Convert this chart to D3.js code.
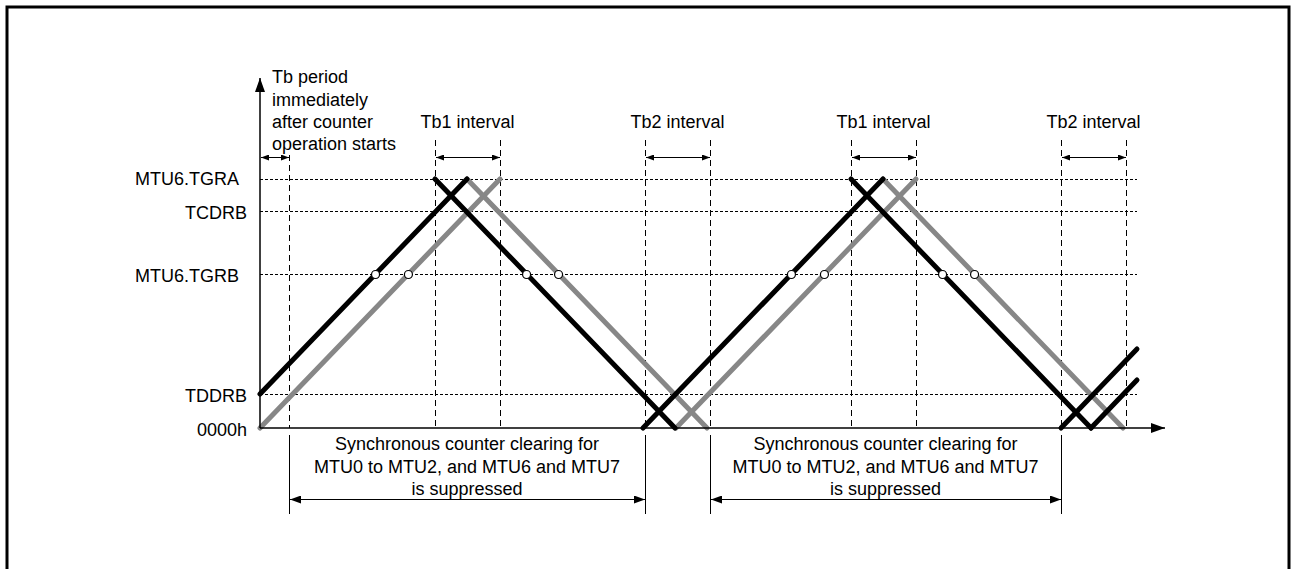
<!DOCTYPE html>
<html>
<head>
<meta charset="utf-8">
<script src="https://cdn.jsdelivr.net/npm/d3@7"></script>
<style>
  html, body { margin: 0; padding: 0; background: #fff; }
  svg { display: block; font-family: "Liberation Sans", Arial, Helvetica, sans-serif; }
</style>
</head>
<body>
<svg id="chart" width="1291" height="569"></svg>
<script>
// ---------- data ----------
const levelLabels = ["MTU6.TGRA", "TCDRB", "MTU6.TGRB", "TDDRB", "0000h"];
const levelValues = [249, 217, 154, 34, 0];

// counter waveforms as [time, count] segments
const blackSegments = [
  [[0, 34], [207, 249]],
  [[175, 249], [415, 0]],
  [[383, 0], [623, 249]],
  [[591, 249], [831, 0]],
  [[801, 0], [877, 79]],
  [[831, 0], [877, 48]]
];
const graySegments = [
  [[0, 0], [240, 249]],
  [[207, 249], [447, 0]],
  [[416, 0], [656, 249]],
  [[623, 249], [863, 0]]
];

const intervalLabels = ["Tb1 interval", "Tb2 interval", "Tb1 interval", "Tb2 interval"];
const intervalBounds = [[175, 240], [385, 450], [591, 656], [801, 866]];

const startLabelLines = ["Tb period", "immediately", "after counter", "operation starts"];
const startBounds = [0, 29];

const suppressLines = ["Synchronous counter clearing for", "MTU0 to MTU2, and MTU6 and MTU7", "is suppressed"];
const suppressBounds = [[29, 385], [450, 801]];

const timeMax = 905;
const gridEnd = 877;

// ---------- layout ----------
const svg = d3.select("#chart");
const x = d3.scaleLinear().domain([0, timeMax]).range([260, 1165]);
const y = d3.scaleLinear().domain([0, 249]).range([428, 179]);
const FS = 18;

// border
svg.append("rect").attr("x", 7).attr("y", 7).attr("width", 1282).attr("height", 600)
  .attr("fill", "none").attr("stroke", "#000").attr("stroke-width", 3);

// arrow markers
const defs = svg.append("defs");
function marker(id, len, half) {
  defs.append("marker").attr("id", id).attr("viewBox", `0 ${-half} ${len} ${2 * half}`)
    .attr("refX", len).attr("refY", 0).attr("markerUnits", "userSpaceOnUse")
    .attr("markerWidth", len).attr("markerHeight", 2 * half).attr("orient", "auto-start-reverse")
    .append("path").attr("d", `M0,${-half}L${len},0L0,${half}Z`).attr("fill", "#000");
}
marker("axisArrow", 14, 5);
marker("smallArrow", 8, 3);
marker("bigArrow", 11, 4);

// horizontal dashed level lines
svg.append("g").selectAll("line").data(levelValues.slice(0, 4)).join("line")
  .attr("x1", x(0)).attr("x2", x(gridEnd))
  .attr("y1", d => y(d) + 0.5).attr("y2", d => y(d) + 0.5)
  .attr("stroke", "#000").attr("stroke-width", 1).attr("stroke-dasharray", "3,2");

// level labels
svg.append("g").selectAll("text").data(levelLabels).join("text")
  .attr("x", d => d.startsWith("MTU6") ? 239 : 247)
  .attr("y", (d, i) => y(levelValues[i]) + (i === 0 ? 0 : 2))
  .attr("dy", "0.35em").attr("text-anchor", "end").attr("font-size", FS).attr("fill", "#000")
  .text(d => d);

// vertical dashed interval lines
const vTimes = [startBounds[1]].concat(intervalBounds.flat());
svg.append("g").selectAll("line").data(vTimes).join("line")
  .attr("x1", d => x(d) + 0.5).attr("x2", d => x(d) + 0.5)
  .attr("y1", (d, i) => i === 0 ? 155 : 140).attr("y2", y(0))
  .attr("stroke", "#000").attr("stroke-width", 1).attr("stroke-dasharray", "6,4");

// interval arrows and labels
const arrowY = 157.5;
svg.append("g").selectAll("line").data(intervalBounds.concat([startBounds])).join("line")
  .attr("x1", d => x(d[0]) + 1).attr("x2", d => x(d[1]))
  .attr("y1", arrowY).attr("y2", arrowY)
  .attr("stroke", "#000").attr("stroke-width", 1)
  .attr("marker-start", "url(#smallArrow)").attr("marker-end", "url(#smallArrow)");

svg.append("g").selectAll("text").data(intervalLabels).join("text")
  .attr("x", (d, i) => (x(intervalBounds[i][0]) + x(intervalBounds[i][1])) / 2)
  .attr("y", 122).attr("dy", "0.35em").attr("text-anchor", "middle")
  .attr("font-size", FS).text(d => d);

svg.append("g").selectAll("text").data(startLabelLines).join("text")
  .attr("x", 272).attr("y", (d, i) => 77 + i * 22.3).attr("dy", "0.35em")
  .attr("font-size", FS).text(d => d);

// waveforms
const line = d3.line().x(d => x(d[0])).y(d => y(d[1]));
svg.append("g").selectAll("path").data(graySegments).join("path")
  .attr("d", line).attr("fill", "none").attr("stroke", "#878787")
  .attr("stroke-width", 5).attr("stroke-linecap", "round");
svg.append("g").selectAll("path").data(blackSegments).join("path")
  .attr("d", line).attr("fill", "none").attr("stroke", "#000")
  .attr("stroke-width", 5).attr("stroke-linecap", "round");

// compare-match points where waveforms cross MTU6.TGRB
const tgrb = levelValues[2];
const hits = [];
blackSegments.concat(graySegments).forEach(s => {
  const [a, b] = s;
  if ((a[1] - tgrb) * (b[1] - tgrb) < 0) {
    const t = a[0] + (tgrb - a[1]) / (b[1] - a[1]) * (b[0] - a[0]);
    hits.push(t);
  }
});
svg.append("g").selectAll("circle").data(hits).join("circle")
  .attr("cx", d => x(d)).attr("cy", y(tgrb) + 0.5).attr("r", 4)
  .attr("fill", "#fff").attr("stroke", "#000").attr("stroke-width", 1.2);

// axes
svg.append("line").attr("x1", x(0)).attr("x2", x(0)).attr("y1", y(0)).attr("y2", 78)
  .attr("stroke", "#000").attr("stroke-width", 1.5).attr("marker-end", "url(#axisArrow)");
svg.append("line").attr("x1", x(0)).attr("x2", x(timeMax)).attr("y1", y(0)).attr("y2", y(0))
  .attr("stroke", "#000").attr("stroke-width", 1.5).attr("marker-end", "url(#axisArrow)");

// suppressed-clearing brackets
const bracketY = 499.5;
suppressBounds.forEach(b => {
  const g = svg.append("g");
  g.selectAll("line.v").data(b).join("line").attr("class", "v")
    .attr("x1", d => x(d) + 0.5).attr("x2", d => x(d) + 0.5).attr("y1", 435).attr("y2", 514)
    .attr("stroke", "#000").attr("stroke-width", 1);
  g.append("line").attr("x1", x(b[0]) + 1).attr("x2", x(b[1]))
    .attr("y1", bracketY).attr("y2", bracketY).attr("stroke", "#000").attr("stroke-width", 1)
    .attr("marker-start", "url(#bigArrow)").attr("marker-end", "url(#bigArrow)");
  g.selectAll("text").data(suppressLines).join("text")
    .attr("x", (x(b[0]) + x(b[1])) / 2).attr("y", (d, i) => 444 + i * 22.3)
    .attr("dy", "0.35em").attr("text-anchor", "middle").attr("font-size", FS).text(d => d);
});
</script>
</body>
</html>
